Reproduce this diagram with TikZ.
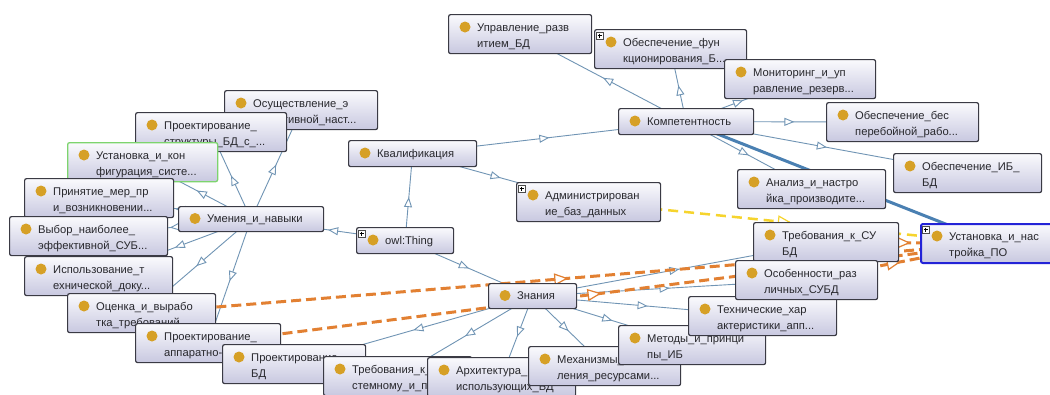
\documentclass[tikz,border=0pt]{standalone}
\usepackage{fontspec}
\setmainfont{Liberation Sans}
\usetikzlibrary{arrows.meta,decorations.markings,backgrounds,calc}
\definecolor{edgecol}{RGB}{112,148,180}
\definecolor{boxbot}{RGB}{200,200,224}
\definecolor{boxtop}{RGB}{250,250,253}
\definecolor{boxline}{RGB}{58,58,68}
\definecolor{dotcol}{RGB}{214,160,38}
\definecolor{txtcol}{RGB}{40,40,45}
\definecolor{orangecol}{RGB}{226,128,50}
\definecolor{yellowcol}{RGB}{246,212,45}
\definecolor{thickblue}{RGB}{74,128,178}
\definecolor{greenbd}{RGB}{125,212,110}
\definecolor{bluebd}{RGB}{35,35,215}
\tikzset{
  cls/.style={draw=boxline, line width=1.2pt, rounded corners=2pt, top color=boxtop, bottom color=boxbot, inner sep=0pt, anchor=north west},
  txt/.style={inner sep=0pt, text=txtcol, font=\fontsize{11.2}{13}\selectfont, anchor=base west},
  dot/.style={fill=dotcol},
  isa/.style={draw=edgecol, line width=0.9pt, postaction={decorate, decoration={markings, mark=at position 0.5 with {\arrow{Triangle[fill=white,length=10pt,width=8pt,line width=0.9pt]}}}}},
  rel/.style={draw=orangecol, line width=3pt, dash pattern=on 10pt off 5pt, postaction={decorate, decoration={markings, mark=at position 0.5 with {\pgfsetdash{}{0pt}\arrow{Triangle[fill=white,length=14pt,width=12pt,line width=1.2pt]}}}}},
  relyel/.style={draw=yellowcol, line width=2.5pt, dash pattern=on 10pt off 6pt, postaction={decorate, decoration={markings, mark=at position 0.5 with {\pgfsetdash{}{0pt}\arrow{Triangle[fill=white,length=14pt,width=12pt,line width=1.2pt]}}}}},
  thick/.style={draw=thickblue, line width=3pt},
  plusbox/.style={draw=gray!60!black, line width=0.5pt, fill=white},
  plusline/.style={draw=black, line width=0.7pt},
  greenframe/.style={draw=greenbd, line width=1.3pt},
  blueframe/.style={draw=bluebd, line width=2pt},
}
\newcommand\TwoBox[7][]{%
  \node[cls,#1,minimum width=#5pt,minimum height=39pt] (#2) at (#3,#4) {};
  \fill[dot] ($(#2.north west)+(17,13)$) circle (5.5pt);
  \node[txt] (#2a) at ($(#2.north west)+(29,17)$) {#6};
  \node[txt] (#2b) at ($(#2.north west)+(29,33)$) {#7};
}
\newcommand\OneBox[6][]{%
  \node[cls,#1,minimum width=#5pt,minimum height=26pt] (#2) at (#3,#4) {};
  \fill[dot] ($(#2.north west)+(17,13)$) circle (5.5pt);
  \node[txt] (#2a) at ($(#2.north west)+(29,17)$) {#6};
}
\newcommand\PlusIcon[1]{%
  \draw[plusbox] ($(#1.north west)+(2,3)$) rectangle ($(#1.north west)+(9,10)$);
  \draw[plusline] ($(#1.north west)+(3.5,6.5)$) -- ($(#1.north west)+(7.5,6.5)$);
  \draw[plusline] ($(#1.north west)+(5.5,4.5)$) -- ($(#1.north west)+(5.5,8.5)$);
}
\begin{document}
\begin{tikzpicture}[x=1pt,y=-1pt]
\useasboundingbox (0,0) rectangle (1050,394);
\clip (0,0) rectangle (1050,394);
% top cluster
\TwoBox{upr}{448}{14}{143}{Управление\_разв}{итием\_БД}
\TwoBox{obfun}{594}{29}{152}{Обеспечение\_фун}{кционирования\_Б...}
\PlusIcon{obfun}
\TwoBox{monit}{724}{59}{151}{Мониторинг\_и\_уп}{равление\_резерв...}
\OneBox{komp}{618}{108}{135}{Компетентность}
\TwoBox{obbes}{826}{102}{152}{Обеспечение\_бес}{перебойной\_рабо...}
\TwoBox{obib}{893}{153}{148}{Обеспечение\_ИБ\_}{БД}
\TwoBox{anal}{737}{169}{148}{Анализ\_и\_настро}{йка\_производите...}
\OneBox{kval}{348}{140}{128}{Квалификация}
\TwoBox{adm}{516}{182}{144}{Администрирован}{ие\_баз\_данных}
\PlusIcon{adm}
\OneBox{owl}{356}{227}{97}{owl:Thing}
\PlusIcon{owl}
\node[cls,minimum width=88pt,minimum height=25pt] (zn) at (488,283) {};
\fill[dot] ($(zn.north west)+(17,12.5)$) circle (5.5pt);
\node[txt] (zna) at ($(zn.north west)+(29,16.5)$) {Знания};
% left cluster
\TwoBox{osus}{224}{90}{153}{Осуществление\_э}{ффективной\_наст...}
\TwoBox{prstr}{135}{112}{151}{Проектирование\_}{структуры\_БД\_с\_...}
\TwoBox[greenframe]{ustkon}{67}{142}{150}{Установка\_и\_кон}{фигурация\_систе...}
\TwoBox{prin}{24}{178}{149}{Принятие\_мер\_пр}{и\_возникновении...}
\node[cls,minimum width=145pt,minimum height=25pt] (um) at (178,206) {};
\fill[dot] ($(um.north west)+(17,12.5)$) circle (5.5pt);
\node[txt] (uma) at ($(um.north west)+(29,16.5)$) {Умения\_и\_навыки};
\TwoBox{vyb}{9}{216}{158}{Выбор\_наиболее\_}{эффективной\_СУБ...}
\TwoBox{isp}{24}{256}{148}{Использование\_т}{ехнической\_доку...}
\TwoBox{otsen}{67}{293}{148}{Оценка\_и\_вырабо}{тка\_требований}
\TwoBox{prap}{135}{323}{145}{Проектирование\_}{аппаратно-прогр...}
% bottom cluster
\TwoBox{prbd}{222}{344}{143}{Проектирование\_}{БД}
\TwoBox{trsys}{323}{356}{148}{Требования\_к\_си}{стемному\_и\_про...}
\TwoBox{arh}{427}{357}{148}{Архитектура\_ИС\_}{использующих\_БД}
\TwoBox{meh}{528}{346}{152}{Механизмы\_}{ления\_ресурсами...}
\TwoBox{metod}{618}{325}{147}{Методы\_и\_принци}{пы\_ИБ}
\TwoBox{tehn}{688}{296}{148}{Технические\_хар}{актеристики\_апп...}
\TwoBox{trsubd}{753}{222}{145}{Требования\_к\_СУ}{БД}
\TwoBox{osob}{735}{260}{142}{Особенности\_раз}{личных\_СУБД}
\TwoBox[blueframe]{ustpo}{920}{223}{148}{Установка\_и\_нас}{тройка\_ПО}
\PlusIcon{ustpo}
% connectors behind the boxes
\begin{scope}[on background layer]
\fill[white] (0,0) rectangle (1050,394);
\draw[isa] (owl.center) -- (kval.center);
\draw[isa] (owl.center) -- (um.center);
\draw[isa] (owl.center) -- (zn.center);
\draw[isa] (kval.center) -- (komp.center);
\draw[isa] (kval.center) -- (adm.center);
\draw[isa] (komp.center) -- (upr.center);
\draw[isa] (komp.center) -- (obfun.center);
\draw[isa] (komp.center) -- (monit.center);
\draw[isa] (komp.center) -- (obbes.center);
\draw[isa] (komp.center) -- (obib.center);
\draw[isa] (komp.center) -- (anal.center);
\draw[isa] (um.center) -- (osus.center);
\draw[isa] (um.center) -- (prstr.center);
\draw[isa] (um.center) -- (ustkon.center);
\draw[isa] (um.center) -- (prin.center);
\draw[isa] (um.center) -- (vyb.center);
\draw[isa] (um.center) -- (isp.center);
\draw[isa] (um.center) -- (otsen.center);
\draw[isa] (um.center) -- (prap.center);
\draw[isa] (zn.center) -- (prbd.center);
\draw[isa] (zn.center) -- (trsys.center);
\draw[isa] (zn.center) -- (arh.center);
\draw[isa] (zn.center) -- (meh.center);
\draw[isa] (zn.center) -- (metod.center);
\draw[isa] (zn.center) -- (tehn.center);
\draw[isa] (zn.center) -- (osob.center);
\draw[isa] (zn.center) -- (trsubd.center);
\draw[thick] (komp.center) -- (ustpo.center);
\draw[relyel] (adm.center) -- (ustpo.center);
\draw[rel] (otsen.center) -- (ustpo.center);
\draw[rel] (prap.center) -- (ustpo.center);
\draw[rel] (trsubd.center) -- (ustpo.center);
\draw[rel] (osob.center) -- (ustpo.center);
\end{scope}
\end{tikzpicture}
\end{document}
